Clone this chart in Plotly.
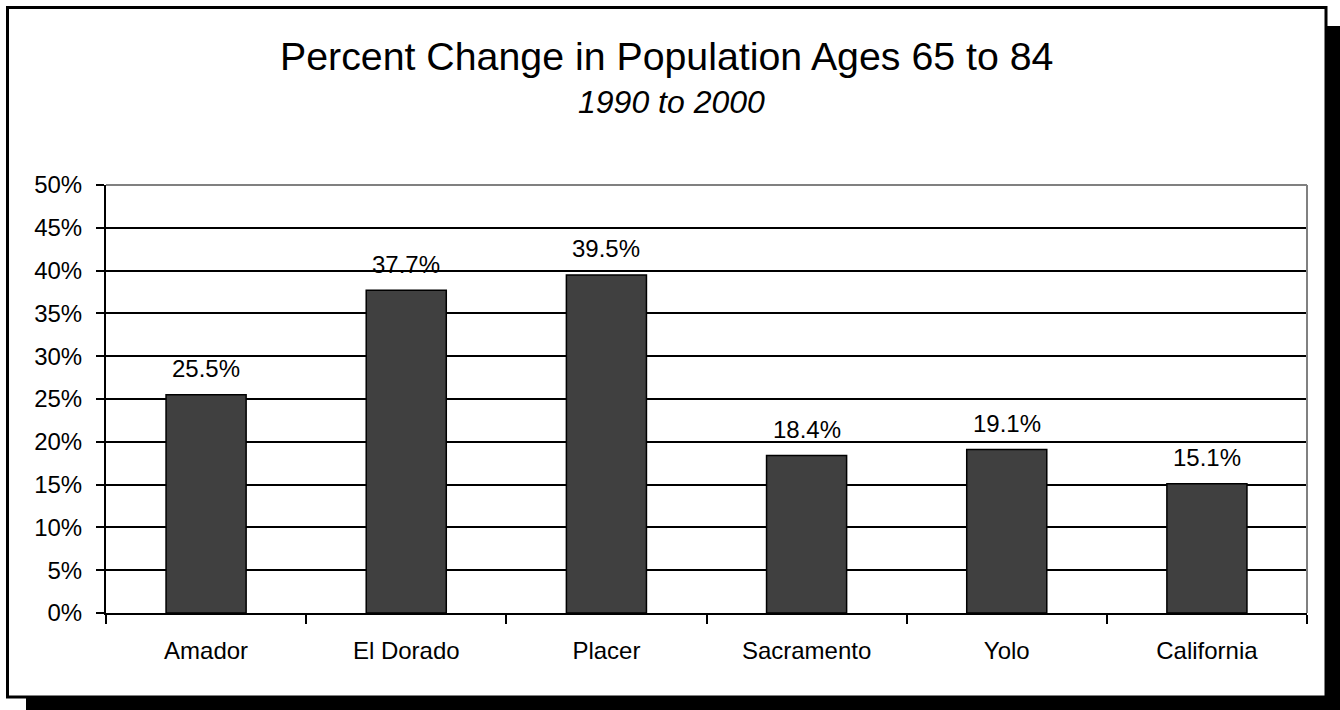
import plotly.graph_objects as go

# Data
regions = ["Amador", "El Dorado", "Placer", "Sacramento", "Yolo", "California"]
pct_change = [25.5, 37.7, 39.5, 18.4, 19.1, 15.1]
y_ticks = [0, 5, 10, 15, 20, 25, 30, 35, 40, 45, 50]
y_tick_text = [f"{v}%" for v in y_ticks]

title_text = "Percent Change in Population Ages 65 to 84"
subtitle_text = "1990 to 2000"

FONT = "Arial, Liberation Sans, Helvetica, sans-serif"
W, H = 1340, 710
L, R, T, B = 106, 33, 185, 97
PW, PH = W - L - R, H - T - B


def px_x(p):
    return (p - L) / PW


def px_y(p):
    return (H - B - p) / PH


fig = go.Figure()
fig.add_trace(go.Bar(
    x=regions,
    y=pct_change,
    marker=dict(color="#404040", line=dict(color="black", width=1.5)),
    width=0.4,
    hoverinfo="skip",
))

# value labels above each bar
for name, val in zip(regions, pct_change):
    fig.add_annotation(
        x=name, y=val, xref="x", yref="y",
        text=f"{val:.1f}%", showarrow=False,
        yanchor="middle", yshift=26,
        font=dict(family=FONT, size=24, color="black"),
    )

# title and subtitle
fig.add_annotation(
    x=px_x(666.5), y=px_y(56), xref="paper", yref="paper",
    text=title_text, showarrow=False, xanchor="center", yanchor="middle",
    font=dict(family=FONT, size=39.3, color="black"),
)
fig.add_annotation(
    x=px_x(671), y=px_y(102), xref="paper", yref="paper",
    text=f"<i>{subtitle_text}</i>", showarrow=False, xanchor="center", yanchor="middle",
    font=dict(family=FONT, size=32, color="black"),
)

# drop shadow and frame around the chart
fig.add_shape(type="rect", xref="paper", yref="paper", layer="below",
              x0=px_x(26), x1=px_x(1360), y0=px_y(730), y1=px_y(26),
              fillcolor="black", line=dict(width=0))
fig.add_shape(type="rect", xref="paper", yref="paper", layer="below",
              x0=px_x(7.5), x1=px_x(1326), y0=px_y(697), y1=px_y(7.5),
              fillcolor="white", line=dict(color="black", width=3))

# grey top and right borders of the plot area
fig.add_shape(type="line", xref="paper", yref="paper", layer="above",
              x0=0, x1=1, y0=1, y1=1, line=dict(color="#808080", width=2))
fig.add_shape(type="line", xref="paper", yref="paper", layer="above",
              x0=1, x1=1, y0=0, y1=1, line=dict(color="#808080", width=2))

fig.update_layout(
    width=W, height=H,
    margin=dict(l=L, r=R, t=T, b=B, pad=0),
    paper_bgcolor="white",
    plot_bgcolor="white",
    showlegend=False,
    bargap=0.6,
    font=dict(family=FONT, size=24, color="black"),
)
fig.update_xaxes(
    type="category",
    showline=True, linecolor="black", linewidth=2,
    ticks="outside", tickson="boundaries", ticklen=9, tickwidth=2, tickcolor="black",
    showgrid=False, zeroline=False,
    tickfont=dict(family=FONT, size=24, color="black"),
    ticklabelstandoff=15,
)
fig.update_yaxes(
    range=[0, 50],
    tickvals=y_ticks, ticktext=y_tick_text,
    showline=True, linecolor="black", linewidth=2,
    ticks="outside", ticklen=8, tickwidth=2, tickcolor="black",
    showgrid=True, gridcolor="black", gridwidth=1.5,
    zeroline=False,
    tickfont=dict(family=FONT, size=24, color="black"),
    ticklabelstandoff=9,
)

fig.write_html("out.html")
